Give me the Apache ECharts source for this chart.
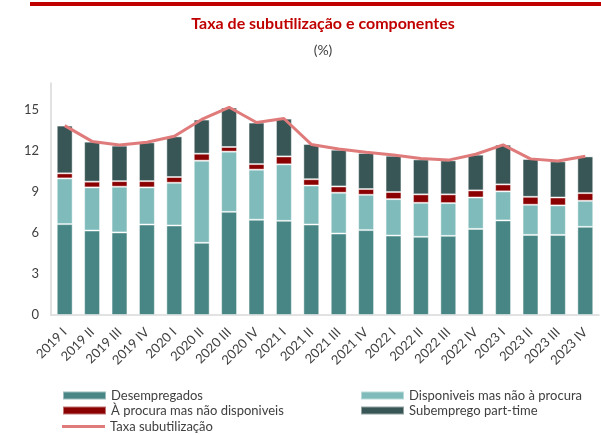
<!DOCTYPE html>
<html>
<head>
<meta charset="utf-8">
<script src="https://cdn.jsdelivr.net/npm/echarts@6/dist/echarts.min.js"></script>
<style>
  html, body { margin: 0; padding: 0; background: #fff; }
  #chart { width: 601px; height: 435px; }
</style>
</head>
<body>
<div id="chart"></div>
<script>
var quarters = ['2019 I', '2019 II', '2019 III', '2019 IV', '2020 I', '2020 II', '2020 III', '2020 IV',
    '2021 I', '2021 II', '2021 III', '2021 IV', '2022 I', '2022 II', '2022 III', '2022 IV',
    '2023 I', '2023 II', '2023 III', '2023 IV'];

var desempregados = [6.66, 6.19, 6.05, 6.63, 6.56, 5.29, 7.56, 6.98, 6.90, 6.63,
    5.97, 6.22, 5.82, 5.73, 5.80, 6.31, 6.93, 5.87, 5.87, 6.46];
var disponiveis = [3.35, 3.16, 3.35, 2.72, 3.13, 6.02, 4.41, 3.67, 4.14, 2.86,
    2.99, 2.59, 2.67, 2.49, 2.40, 2.30, 2.13, 2.21, 2.16, 1.91];
var procura = [0.37, 0.42, 0.41, 0.46, 0.42, 0.51, 0.34, 0.41, 0.58, 0.46,
    0.46, 0.42, 0.52, 0.62, 0.64, 0.52, 0.51, 0.58, 0.58, 0.56];
var subemprego = [3.50, 2.93, 2.60, 2.84, 2.98, 2.50, 2.89, 3.04, 2.77, 2.58,
    2.69, 2.64, 2.66, 2.56, 2.49, 2.62, 2.91, 2.77, 2.65, 2.69];
var taxa = [13.88, 12.72, 12.45, 12.66, 13.10, 14.33, 15.22, 14.11, 14.40, 12.50,
    12.17, 11.92, 11.72, 11.46, 11.35, 11.78, 12.47, 11.44, 11.29, 11.63];

var fontFamily = 'Lato, "Open Sans", sans-serif';

function barSeries(name, data, color) {
    return {
        name: name,
        type: 'bar',
        stack: 'total',
        barWidth: '58%',
        data: data,
        itemStyle: {
            color: color,
            borderColor: 'rgba(255,255,255,0.45)',
            borderWidth: 1
        }
    };
}

// one legend per entry so each sits where the reference puts it
function legendAt(name, left, top, itemHeight) {
    return {
        left: left,
        top: top,
        padding: 0,
        itemWidth: 43,
        itemHeight: itemHeight || 8,
        icon: 'rect',
        itemGap: 0,
        textStyle: { color: '#404040', fontSize: 13, fontFamily: fontFamily },
        data: [name]
    };
}

var chart = echarts.init(document.getElementById('chart'));

var option = {
    animation: false,
    textStyle: { fontFamily: fontFamily },
    title: [{
        text: 'Taxa de subutilização e componentes',
        left: 318,
        top: 11,
        textAlign: 'center',
        textStyle: { color: '#c00000', fontSize: 16, fontWeight: 'bold', fontFamily: fontFamily }
    }, {
        text: '(%)',
        left: 318,
        top: 38,
        textAlign: 'center',
        textStyle: { color: '#404040', fontSize: 14, fontWeight: 'normal', fontFamily: fontFamily }
    }],
    graphic: [{
        type: 'rect',
        shape: { x: 30, y: 2, width: 571, height: 4 },
        style: { fill: '#c00000' }
    }],
    legend: [
        legendAt('Desempregados', 62, 389),
        legendAt('À procura mas não disponiveis', 62, 404),
        legendAt('Taxa subutilização', 62, 420, 3),
        legendAt('Disponiveis mas não à procura', 360, 389),
        legendAt('Subemprego part-time', 360, 404)
    ],
    grid: {
        left: 51,
        right: 2,
        top: 83,
        bottom: 120,
        containLabel: false
    },
    xAxis: {
        type: 'category',
        data: quarters,
        axisLine: { lineStyle: { color: '#d9d9d9', width: 1.5 } },
        axisTick: { show: false },
        axisLabel: {
            rotate: 45,
            color: '#404040',
            fontSize: 13,
            margin: 15,
            interval: 0,
            fontFamily: fontFamily
        }
    },
    yAxis: {
        type: 'value',
        min: 0,
        max: 17,
        interval: 3,
        splitLine: { show: false },
        axisLine: { show: true, lineStyle: { color: '#d9d9d9', width: 1.5 } },
        axisTick: { show: false },
        axisLabel: {
            color: '#404040',
            fontSize: 13,
            margin: 12,
            showMaxLabel: false,
            fontFamily: fontFamily
        }
    },
    series: [
        barSeries('Desempregados', desempregados, '#478685'),
        barSeries('Disponiveis mas não à procura', disponiveis, '#7fbbba'),
        barSeries('À procura mas não disponiveis', procura, '#8b0000'),
        barSeries('Subemprego part-time', subemprego, '#385655'),
        {
            name: 'Taxa subutilização',
            type: 'line',
            data: taxa,
            symbol: 'none',
            z: 5,
            lineStyle: { color: '#e07b7b', width: 3 },
            itemStyle: { color: '#e07b7b' }
        }
    ]
};

chart.setOption(option);
</script>
</body>
</html>
